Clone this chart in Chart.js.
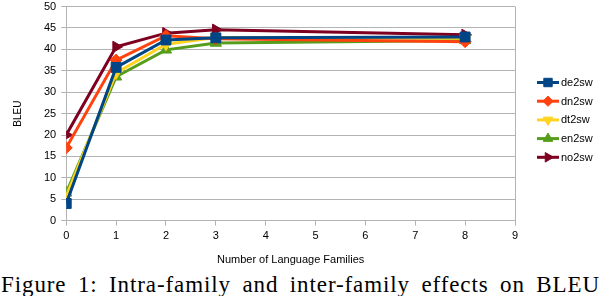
<!DOCTYPE html>
<html lang="en">
<head>
    <meta charset="UTF-8">
    <title>Intra-family and inter-family effects on BLEU</title>
    <script src="https://cdn.jsdelivr.net/npm/chart.js"></script>
    <style>
        body {
            margin: 0;
            padding: 0;
            background: #ffffff;
            width: 612px;
            height: 296px;
            position: relative;
            overflow: hidden;
        }

        .chart-box {
            position: absolute;
            left: 0;
            top: -5px;
            width: 612px;
            height: 275px;
        }

        .caption {
            position: absolute;
            left: 1px;
            top: 274px;
            width: 599px;
            font-family: 'Liberation Serif', 'Times New Roman', serif;
            font-size: 23px;
            line-height: 22px;
            letter-spacing: 0.9px;
            color: #000;
            text-align: justify;
            text-align-last: justify;
            white-space: nowrap;
        }
    </style>
</head>
<body>

    <div class="chart-box">
        <canvas id="bleuChart"></canvas>
    </div>
    <div class="caption">Figure 1: Intra-family and inter-family effects on BLEU</div>

    <script>
        // number of language families on the x axis
        const families = [0, 1, 2, 3, 8];

        const seriesNames = ['de2sw', 'dn2sw', 'dt2sw', 'en2sw', 'no2sw'];

        const de2sw = [4, 35.8, 42.2, 42.7, 42.9];
        const dn2sw = [17, 37.5, 43.2, 42.5, 41.8];
        const dt2sw = [5.7, 34.5, 41.2, 42.8, 42.6];
        const en2sw = [6.5, 33.6, 39.9, 41.5, 42.1];
        const no2sw = [20, 40.6, 43.8, 44.6, 43.4];

        const xTicks = [0, 1, 2, 3, 4, 5, 6, 7, 8, 9];
        const yTicks = [0, 5, 10, 15, 20, 25, 30, 35, 40, 45, 50];

        const seriesValues = [de2sw, dn2sw, dt2sw, en2sw, no2sw];
        const colors = ['#004586', '#ff420e', '#ffd320', '#579d1c', '#7e0021'];
        const markers = [
            { style: 'rect', rotation: 0, radius: 7 },
            { style: 'rectRot', rotation: 0, radius: 6 },
            { style: 'triangle', rotation: 180, radius: 6.5 },
            { style: 'triangle', rotation: 0, radius: 6.5 },
            { style: 'triangle', rotation: 90, radius: 6.5 }
        ];

        const gridGray = '#b3b3b3';
        const font = "'Liberation Sans', Arial, sans-serif";

        const datasets = seriesNames.map((name, i) => ({
            label: name,
            data: families.map((f, j) => ({ x: f, y: seriesValues[i][j] })),
            borderColor: colors[i],
            backgroundColor: colors[i],
            borderWidth: 3,
            pointStyle: markers[i].style,
            pointRotation: markers[i].rotation,
            pointRadius: markers[i].radius,
            pointBorderWidth: 1,
            pointBackgroundColor: colors[i],
            pointBorderColor: colors[i],
            tension: 0
        }));

        // legend drawn as line + marker, like the original
        const lineLegend = {
            id: 'lineLegend',
            afterDraw(chart) {
                const ctx = chart.ctx;
                const x0 = 537, top = 87.5, gap = 18.7;
                chart.data.datasets.forEach((ds, i) => {
                    const y = top + i * gap;
                    ctx.save();
                    ctx.strokeStyle = ds.borderColor;
                    ctx.lineWidth = 3;
                    ctx.beginPath();
                    ctx.moveTo(x0, y);
                    ctx.lineTo(x0 + 22, y);
                    ctx.stroke();
                    ctx.fillStyle = ds.backgroundColor;
                    ctx.strokeStyle = ds.borderColor;
                    ctx.lineWidth = 1;
                    Chart.helpers.drawPoint(ctx, {
                        pointStyle: ds.pointStyle,
                        rotation: ds.pointRotation,
                        radius: ds.pointRadius * 0.85,
                        borderWidth: 1
                    }, x0 + 11, y);
                    ctx.fillStyle = '#000';
                    ctx.font = '11px ' + font;
                    ctx.textBaseline = 'middle';
                    ctx.textAlign = 'left';
                    ctx.fillText(ds.label, x0 + 24, y + 0.5);
                    ctx.restore();
                });
            }
        };

        const ctx = document.getElementById('bleuChart').getContext('2d');
        new Chart(ctx, {
            type: 'line',
            data: { datasets: datasets },
            options: {
                responsive: true,
                maintainAspectRatio: false,
                animation: false,
                layout: {
                    padding: { left: 8, right: 97, top: 0, bottom: 0 }
                },
                plugins: {
                    legend: { display: false },
                    tooltip: { enabled: false }
                },
                scales: {
                    x: {
                        type: 'linear',
                        min: xTicks[0],
                        max: xTicks[xTicks.length - 1],
                        afterBuildTicks: (axis) => {
                            axis.ticks = xTicks.map(v => ({ value: v }));
                        },
                        border: { color: gridGray, width: 1 },
                        grid: {
                            color: (c) => c.tick && c.tick.value === 9 ? gridGray : 'rgba(0,0,0,0)',
                            tickColor: gridGray,
                            tickLength: 5,
                            lineWidth: 1
                        },
                        ticks: {
                            color: '#000',
                            padding: 4,
                            maxRotation: 0,
                            font: { family: font, size: 11 }
                        },
                        title: {
                            display: true,
                            text: 'Number of Language Families',
                            color: '#000',
                            font: { family: font, size: 11 },
                            padding: { top: 7, bottom: 3 }
                        }
                    },
                    y: {
                        min: yTicks[0],
                        max: yTicks[yTicks.length - 1],
                        afterBuildTicks: (axis) => {
                            axis.ticks = yTicks.map(v => ({ value: v }));
                        },
                        border: { color: gridGray, width: 1 },
                        grid: {
                            color: gridGray,
                            tickColor: gridGray,
                            tickLength: 5,
                            lineWidth: 1
                        },
                        ticks: {
                            color: '#000',
                            padding: 5,
                            font: { family: font, size: 11 }
                        },
                        title: {
                            display: true,
                            text: 'BLEU',
                            color: '#000',
                            font: { family: font, size: 10 },
                            padding: { top: 4, bottom: 15 }
                        }
                    }
                }
            },
            plugins: [lineLegend]
        });
    </script>
</body>
</html>
